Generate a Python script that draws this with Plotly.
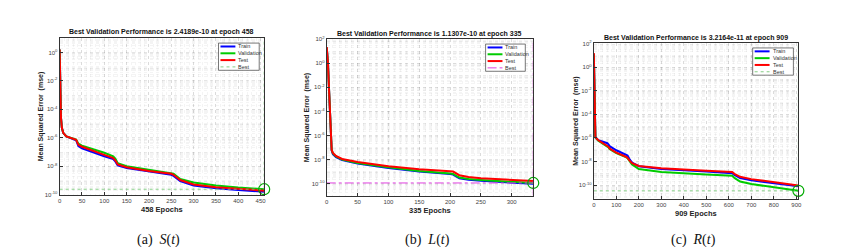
import numpy as np
import plotly.graph_objects as go

W, H = 844, 247

# ---------------- data (log10 of MSE) ----------------
# Panel (a) S(t)
s_epochs = [0, 1, 2, 3, 5, 8, 15, 30, 37, 42, 50, 100, 120, 125, 130, 150, 200, 250, 255, 270, 300, 350, 400, 458]
s_train = [0.2, -2.0, -3.6, -4.6, -5.3, -5.65, -5.9, -6.07, -6.18, -6.58, -6.75, -7.3, -7.5, -7.68, -7.95, -8.12, -8.38, -8.6, -8.68, -9.05, -9.36, -9.55, -9.67, -9.8]
s_val = [0.2, -2.0, -3.6, -4.6, -5.3, -5.65, -5.9, -6.03, -6.12, -6.42, -6.55, -7.05, -7.3, -7.48, -7.78, -8.0, -8.25, -8.45, -8.52, -8.9, -9.15, -9.35, -9.5, -9.62]
s_test = [0.2, -2.0, -3.6, -4.6, -5.3, -5.65, -5.9, -6.05, -6.15, -6.5, -6.63, -7.2, -7.42, -7.6, -7.87, -8.07, -8.33, -8.53, -8.6, -8.97, -9.28, -9.48, -9.6, -9.72]
s_best_epoch, s_best = 458, 2.4189e-10

# Panel (b) L(t)
l_epochs = [0, 2, 4, 6, 8, 10, 15, 25, 50, 100, 150, 200, 205, 215, 230, 250, 300, 335]
l_train = [1.3, 0.0, -2.5, -5.5, -7.25, -7.55, -7.8, -8.05, -8.32, -8.7, -9.0, -9.2, -9.25, -9.55, -9.68, -9.77, -9.92, -10.02]
l_val = [1.3, 0.0, -2.5, -5.5, -7.2, -7.5, -7.75, -8.0, -8.28, -8.65, -8.95, -9.15, -9.2, -9.5, -9.62, -9.7, -9.85, -9.95]
l_test = [1.35, 0.0, -2.5, -5.5, -7.2, -7.45, -7.7, -7.95, -8.2, -8.55, -8.8, -8.98, -9.0, -9.3, -9.45, -9.55, -9.68, -9.78]
l_best_epoch, l_best = 335, 1.1307e-10

# Panel (c) R(t)
r_epochs = [0, 2, 4, 7, 20, 60, 65, 70, 100, 145, 150, 160, 170, 200, 300, 500, 615, 625, 650, 700, 800, 909]
r_train = [1.1, -1.5, -4.5, -5.95, -6.2, -6.45, -6.55, -6.7, -7.05, -7.42, -7.5, -7.85, -8.1, -8.4, -8.65, -8.85, -9.0, -9.15, -9.4, -9.6, -9.85, -10.1]
r_val = [1.1, -1.5, -4.5, -5.95, -6.25, -6.7, -6.8, -6.95, -7.3, -7.65, -7.72, -8.0, -8.25, -8.65, -8.9, -9.1, -9.22, -9.4, -9.7, -9.92, -10.2, -10.49]
r_test = [1.2, -1.5, -4.5, -5.95, -6.2, -6.65, -6.75, -6.9, -7.25, -7.62, -7.7, -7.95, -8.15, -8.38, -8.58, -8.78, -8.9, -9.05, -9.3, -9.5, -9.78, -10.05]
r_best_epoch, r_best = 909, 3.2164e-11

titles = ["Best Validation Performance is 2.4189e-10 at epoch 458",
          "Best Validation Performance is 1.1307e-10 at epoch 335",
          "Best Validation Performance is 3.2164e-11 at epoch 909"]
xlabels = ["458 Epochs", "335 Epochs", "909 Epochs"]
ylabel = "Mean Squared Error  (mse)"
captions = ["(a)  <i>S</i>(<i>t</i>)", "(b)  <i>L</i>(<i>t</i>)", "(c)  <i>R</i>(<i>t</i>)"]
legend_names = ["Train", "Validation", "Test", "Best"]

# ---------------- layout geometry (pixels) ----------------
panels = [
    dict(ep=s_epochs, tr=s_train, va=s_val, te=s_test, be=s_best_epoch, bv=s_best,
         px=(50, 256), py=(27, 188), xr=[0, 458], yr=[-10, 1], xt=list(range(0, 451, 50)), xm=10,
         yt=[0, -2, -4, -6, -8, -10], best_color="rgba(120,200,120,0.9)", best_dash="dot",
         leg=(210, 32, 251, 60), title_xy=(153, 21), ylab_x=32, xlab_y=203),
    dict(ep=l_epochs, tr=l_train, va=l_val, te=l_test, be=l_best_epoch, bv=l_best,
         px=(319, 527), py=(28, 189), xr=[0, 335], yr=[-11, 2], xt=list(range(0, 301, 50)), xm=10,
         yt=[2, 0, -2, -4, -6, -8, -10], best_color="#e040e0", best_dash="dashdot",
         leg=(479, 33, 519, 61), title_xy=(422, 23), ylab_x=300, xlab_y=204),
    dict(ep=r_epochs, tr=r_train, va=r_val, te=r_test, be=r_best_epoch, bv=r_best,
         px=(588, 794), py=(32, 192), xr=[0, 909], yr=[-11.15, 2.05], xt=list(range(0, 901, 100)), xm=20,
         yt=[2, 0, -2, -4, -6, -8, -10], best_color="rgba(120,200,120,0.9)", best_dash="dot",
         leg=(748, 37, 789, 65), title_xy=(691, 27), ylab_x=570, xlab_y=207),
]

def PX(x):
    return x / W

def PY(y):
    return 1 - y / H

FONT = "Liberation Sans, Arial, sans-serif"
AXC = "#333333"
COLORS = ["#0000ff", "#00cc00", "#ff0000"]

fig = go.Figure()
annotations = []
shapes = []

for i, p in enumerate(panels):
    n = "" if i == 0 else str(i + 1)
    xa, ya = "x" + n, "y" + n
    ep = np.array(p["ep"])
    for vals, col in zip([p["tr"], p["va"], p["te"]], COLORS):
        fig.add_trace(go.Scatter(x=ep, y=10.0 ** np.array(vals), mode="lines",
                                 line=dict(color=col, width=2), xaxis=xa, yaxis=ya,
                                 showlegend=False, hoverinfo="skip"))
    # best lines
    fig.add_trace(go.Scatter(x=[p["xr"][0], p["xr"][1]], y=[p["bv"], p["bv"]], mode="lines",
                             line=dict(color=p["best_color"], width=1, dash=p["best_dash"]),
                             xaxis=xa, yaxis=ya, showlegend=False, hoverinfo="skip"))
    fig.add_trace(go.Scatter(x=[p["be"], p["be"]], y=[10 ** p["yr"][0], 10 ** p["yr"][1]], mode="lines",
                             line=dict(color=p["best_color"], width=1, dash=p["best_dash"]),
                             xaxis=xa, yaxis=ya, showlegend=False, hoverinfo="skip"))
    fig.add_trace(go.Scatter(x=[p["be"]], y=[p["bv"]], mode="markers",
                             marker=dict(symbol="circle-open", size=11, color="#00aa00", line=dict(width=1.2)),
                             xaxis=xa, yaxis=ya, showlegend=False, hoverinfo="skip", cliponaxis=False))

    minor_y = [m * 10.0 ** k for k in range(int(np.floor(p["yr"][0])), int(np.ceil(p["yr"][1])) + 1)
               for m in range(2, 10)]
    minor_y += [10.0 ** k for k in range(int(np.floor(p["yr"][0])), int(np.ceil(p["yr"][1])) + 1)
                if k not in p["yt"]]
    xdom = [PX(p["px"][0]), PX(p["px"][1])]
    ydom = [PY(p["py"][1]), PY(p["py"][0])]
    xkey = "xaxis" + n
    ykey = "yaxis" + n
    fig.update_layout(**{
        xkey: dict(domain=xdom, range=p["xr"], anchor=ya, tickvals=p["xt"],
                   ticks="inside", ticklen=3, tickcolor=AXC, showline=True, linecolor=AXC, linewidth=1,
                   mirror=True, showgrid=True, gridcolor="rgba(0,0,0,0.10)", griddash="dot", gridwidth=0.7,
                   minor=dict(dtick=p["xm"], showgrid=True, gridcolor="rgba(0,0,0,0.045)", griddash="dot",
                              gridwidth=0.6, ticks=""),
                   tickfont=dict(size=6, color="#444", family=FONT), zeroline=False),
        ykey: dict(domain=ydom, type="log", range=p["yr"], anchor=xa,
                   tickvals=[10.0 ** k for k in p["yt"]],
                   ticktext=["10<sup>%d</sup>" % k for k in p["yt"]],
                   ticks="inside", ticklen=3, tickcolor=AXC, showline=True, linecolor=AXC, linewidth=1,
                   mirror=True, showgrid=True, gridcolor="rgba(0,0,0,0.10)", griddash="dot", gridwidth=0.7,
                   minor=dict(tickvals=minor_y, showgrid=True, gridcolor="rgba(0,0,0,0.045)", griddash="dot",
                              gridwidth=0.6, ticks=""),
                   tickfont=dict(size=6, color="#444", family=FONT), zeroline=False),
    })

    # titles and labels
    tx, ty = p["title_xy"]
    annotations.append(dict(x=PX(tx), y=PY(ty), xref="paper", yref="paper", text="<b>%s</b>" % titles[i],
                            showarrow=False, font=dict(size=7, color="#111", family=FONT),
                            xanchor="center", yanchor="middle"))
    cx = (p["px"][0] + p["px"][1]) / 2
    annotations.append(dict(x=PX(cx), y=PY(p["xlab_y"]), xref="paper", yref="paper", text="<b>%s</b>" % xlabels[i],
                            showarrow=False, font=dict(size=7.5, color="#222", family=FONT),
                            xanchor="center", yanchor="middle"))
    cy = (p["py"][0] + p["py"][1]) / 2
    annotations.append(dict(x=PX(p["ylab_x"]), y=PY(cy), xref="paper", yref="paper", text="<b>%s</b>" % ylabel,
                            showarrow=False, textangle=-90, font=dict(size=7, color="#222", family=FONT),
                            xanchor="center", yanchor="middle"))
    annotations.append(dict(x=PX(cx - 3), y=PY(235), xref="paper", yref="paper", text=captions[i],
                            showarrow=False, font=dict(size=14, color="#111", family="Liberation Serif, Times New Roman, serif"),
                            xanchor="center", yanchor="middle"))

    # legend box
    lx0, ly0, lx1, ly1 = p["leg"]
    shapes.append(dict(type="rect", xref="paper", yref="paper", x0=PX(lx0), x1=PX(lx1), y0=PY(ly1), y1=PY(ly0),
                       line=dict(color="#555", width=0.8), fillcolor="white", layer="above"))
    row_h = (ly1 - ly0) / 4.0
    styles = [(COLORS[0], "solid", 2), (COLORS[1], "solid", 2), (COLORS[2], "solid", 2),
              (p["best_color"], p["best_dash"], 1)]
    for j, (name, st) in enumerate(zip(legend_names, styles)):
        yy = ly0 + row_h * (j + 0.5)
        shapes.append(dict(type="line", xref="paper", yref="paper", x0=PX(lx0 + 2), x1=PX(lx0 + 17),
                           y0=PY(yy), y1=PY(yy), line=dict(color=st[0], width=st[2], dash=st[1]), layer="above"))
        annotations.append(dict(x=PX(lx0 + 18), y=PY(yy), xref="paper", yref="paper", text=name,
                                showarrow=False, font=dict(size=5.5, color="#333", family=FONT),
                                xanchor="left", yanchor="middle"))

fig.update_layout(width=W, height=H, margin=dict(l=0, r=0, t=0, b=0),
                  paper_bgcolor="white", plot_bgcolor="white",
                  annotations=annotations, shapes=shapes, showlegend=False)

fig.write_html("out.html")
